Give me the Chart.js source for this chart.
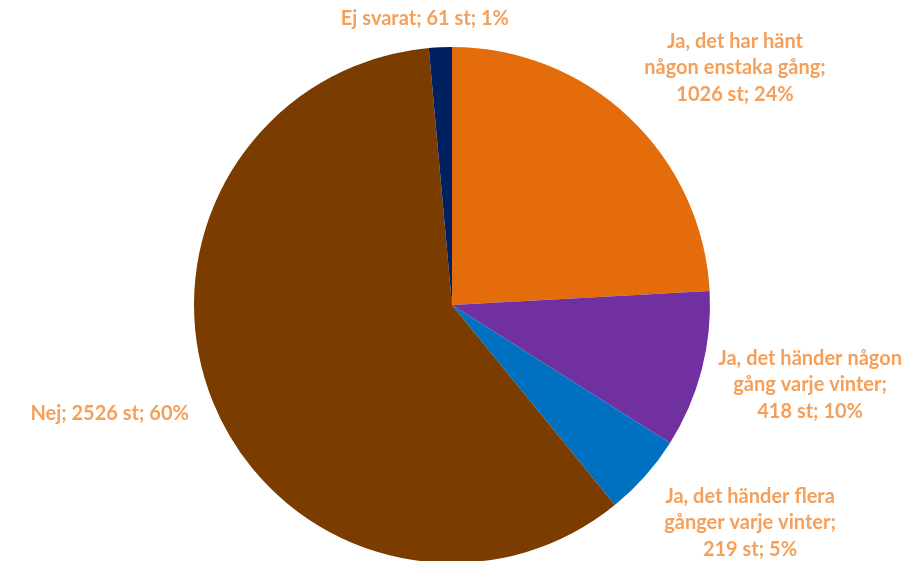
<!DOCTYPE html>
<html>
<head>
<meta charset="utf-8">
<script src="https://cdn.jsdelivr.net/npm/chart.js@4/dist/chart.umd.min.js"></script>
<style>
  html, body { margin: 0; padding: 0; background: #fff; overflow: hidden; }
  #wrap { position: relative; width: 910px; height: 620px; }
</style>
</head>
<body>
<div id="wrap"><canvas id="pieChart"></canvas></div>
<script>
// Data
const categories = [
  ['Ja, det har hänt', 'någon enstaka gång'],
  ['Ja, det händer någon', 'gång varje vinter'],
  ['Ja, det händer flera', 'gånger varje vinter'],
  'Nej',
  'Ej svarat',
];
const counts = [1026, 418, 219, 2526, 61];
const percents = [24, 10, 5, 60, 1];
const colors = ['#E46C0A', '#7030A0', '#0070C0', '#7B3C00', '#002060'];

// label block centres, relative to pie centre in units of radius
const labelOffsets = [
  [1.097, -0.919],
  [1.388, 0.31],
  [1.155, 0.845],
  [-1.327, 0.419],
  [-0.105, -1.112],
];

function labelLines(i) {
  const c = categories[i];
  const tail = `${counts[i]} st; ${percents[i]}%`;
  if (Array.isArray(c)) {
    const lines = c.slice();
    lines[lines.length - 1] += ';';
    return lines.concat([tail]);
  }
  return [`${c}; ${tail}`];
}

const sliceLabels = {
  id: 'sliceLabels',
  afterDatasetsDraw(chart) {
    const ctx = chart.ctx;
    const meta = chart.getDatasetMeta(0);
    ctx.save();
    ctx.fillStyle = '#F4A05A';
    ctx.textAlign = 'center';
    ctx.textBaseline = 'middle';
    ctx.font = 'bold 20px Lato, "Open Sans", sans-serif';
    const lh = 26.5;
    meta.data.forEach((arc, i) => {
      const r = arc.outerRadius;
      const cx = arc.x + labelOffsets[i][0] * r;
      const cy = arc.y + labelOffsets[i][1] * r;
      const lines = labelLines(i);
      const top = cy - (lines.length - 1) * lh / 2;
      lines.forEach((t, k) => ctx.fillText(t, cx, top + k * lh));
    });
    ctx.restore();
  },
};

new Chart(document.getElementById('pieChart'), {
  type: 'pie',
  data: {
    labels: categories.map(c => Array.isArray(c) ? c.join(' ') : c),
    datasets: [{
      data: counts,
      backgroundColor: colors,
      borderWidth: 0,
    }],
  },
  options: {
    responsive: true,
    maintainAspectRatio: false,
    animation: false,
    layout: { padding: { top: 47, bottom: 57, left: 0, right: 6 } },
    plugins: {
      legend: { display: false },
      tooltip: { enabled: false },
    },
  },
  plugins: [sliceLabels],
});
</script>
</body>
</html>
